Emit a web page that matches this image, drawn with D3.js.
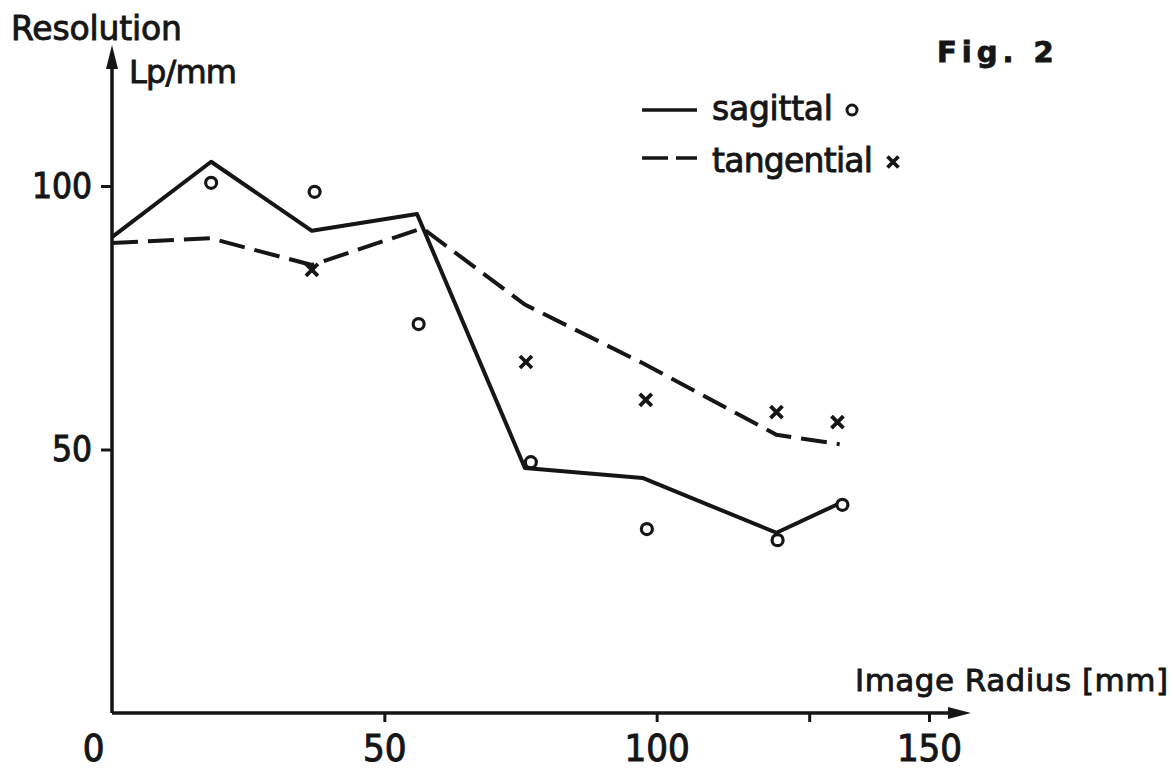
<html>
<head>
    <script src="https://cdnjs.cloudflare.com/ajax/libs/d3/7.8.5/d3.min.js"></script>
    <style>
        body { margin: 0; background: #fff; }
        svg { display: block; }
        .word { font-family: "DejaVu Sans", sans-serif; fill: #161616; stroke: #161616; stroke-width: 0.9; }
        .digit { font-family: "Liberation Sans Narrow", "DejaVu Sans Condensed", sans-serif; fill: #161616; stroke: #161616; stroke-width: 1; }
    </style>
</head>
<body>
<script>
    // radius (mm) and resolution (Lp/mm)
    var sagittalLine = [[0, 90.3], [18.2, 104.6], [36.7, 91.5], [56, 94.7], [75.8, 46.5], [97.4, 44.6], [122, 34.2], [133.6, 39.8]];
    var tangentialLine = [[0, 89.2], [18, 90.1], [36.7, 85], [57, 92], [75.8, 77.5], [97.4, 66.4], [122, 52.8], [133.6, 51]];
    var sagittalPoints = [[18.2, 100.6], [37.2, 98.9], [56.3, 73.8], [76.9, 47.6], [98.2, 34.9], [122.2, 32.8], [134.1, 39.5]];
    var tangentialPoints = [[36.7, 84.1], [76, 66.6], [98, 59.4], [122, 57.1], [133.2, 55.2]];
    var xTicks = [0, 50, 100, 150];
    var xMinorTicks = [128];
    var yTicks = [50, 100];
    var legendNames = ["sagittal", "tangential"];

    var width = 1175, height = 769;
    var ink = "#161616";

    var svg = d3.select("body").append("svg")
        .attr("width", width)
        .attr("height", height);

    var x = d3.scaleLinear().domain([0, 150]).range([112, 929]);
    var y = d3.scaleLinear().domain([0, 100]).range([713, 186]);

    // axes lines with arrow heads
    svg.append("line")
        .attr("x1", x(0)).attr("y1", y(0)).attr("x2", x(0)).attr("y2", 60)
        .attr("stroke", ink).attr("stroke-width", 3.5);
    svg.append("path")
        .attr("d", "M" + x(0) + ",45 L" + (x(0) - 6) + ",69 L" + (x(0) + 6) + ",69 Z")
        .attr("fill", ink);
    svg.append("line")
        .attr("x1", x(0)).attr("y1", y(0)).attr("x2", 955).attr("y2", y(0))
        .attr("stroke", ink).attr("stroke-width", 3.5);
    svg.append("path")
        .attr("d", "M971," + y(0) + " L948," + (y(0) - 6) + " L948," + (y(0) + 6) + " Z")
        .attr("fill", ink);

    var xAxis = d3.axisBottom(x)
        .tickValues(xTicks.concat(xMinorTicks))
        .tickSize(9)
        .tickPadding(12)
        .tickFormat(function (d) { return xTicks.indexOf(d) >= 0 ? d : ""; });
    var xg = svg.append("g")
        .attr("transform", "translate(0," + y(0) + ")")
        .call(xAxis);
    xg.select(".domain").remove();
    xg.selectAll(".tick line").attr("stroke", ink).attr("stroke-width", 3)
        .filter(function (d) { return d === 0; }).remove();
    xg.selectAll(".tick text")
        .attr("class", "digit")
        .attr("font-size", 38)
        .attr("fill", ink)
        .attr("dx", function (d) { return d === 0 ? -19 : 0; });

    var yAxis = d3.axisLeft(y)
        .tickValues(yTicks)
        .tickSize(11)
        .tickPadding(9)
        .tickFormat(d3.format("d"));
    var yg = svg.append("g")
        .attr("transform", "translate(" + x(0) + ",0)")
        .call(yAxis);
    yg.select(".domain").remove();
    yg.selectAll(".tick line").attr("stroke", ink).attr("stroke-width", 3);
    yg.selectAll(".tick text")
        .attr("class", "digit")
        .attr("font-size", 35)
        .attr("fill", ink);

    // axis titles
    svg.append("text").attr("class", "word")
        .attr("x", 11).attr("y", 40).attr("font-size", 33)
        .attr("textLength", 171)
        .text("Resolution");
    svg.append("text").attr("class", "word")
        .attr("x", 129).attr("y", 83).attr("font-size", 32)
        .attr("textLength", 108)
        .text("Lp/mm");
    svg.append("text").attr("class", "word")
        .attr("x", 855).attr("y", 691).attr("font-size", 31)
        .attr("textLength", 313)
        .text("Image Radius [mm]");
    svg.append("text").attr("class", "word")
        .attr("x", 937).attr("y", 62).attr("font-size", 29)
        .attr("font-weight", "bold")
        .attr("letter-spacing", 5)
        .text("Fig. 2");

    // curves
    var line = d3.line()
        .x(function (d) { return x(d[0]); })
        .y(function (d) { return y(d[1]); });

    svg.append("path")
        .datum(sagittalLine)
        .attr("d", line)
        .attr("fill", "none")
        .attr("stroke", ink)
        .attr("stroke-width", 4)
        .attr("stroke-linejoin", "round");

    svg.append("path")
        .datum(tangentialLine)
        .attr("d", line)
        .attr("fill", "none")
        .attr("stroke", ink)
        .attr("stroke-width", 4)
        .attr("stroke-dasharray", "26 10");

    // measured points
    svg.selectAll(".sag").data(sagittalPoints).enter().append("circle")
        .attr("class", "sag")
        .attr("cx", function (d) { return x(d[0]); })
        .attr("cy", function (d) { return y(d[1]); })
        .attr("r", 5.5)
        .attr("fill", "#fff")
        .attr("stroke", ink)
        .attr("stroke-width", 3.2);

    function cross(g, cx, cy, s) {
        g.append("path")
            .attr("d", "M" + (cx - s) + "," + (cy - s) + "L" + (cx + s) + "," + (cy + s) +
                "M" + (cx + s) + "," + (cy - s) + "L" + (cx - s) + "," + (cy + s))
            .attr("stroke", ink)
            .attr("stroke-width", 3.8);
    }

    tangentialPoints.forEach(function (d) {
        cross(svg, x(d[0]), y(d[1]), 6);
    });

    // legend
    var legend = svg.append("g");
    legend.append("line")
        .attr("x1", 642).attr("x2", 697).attr("y1", 110).attr("y2", 110)
        .attr("stroke", ink).attr("stroke-width", 3.5);
    legend.append("line")
        .attr("x1", 642).attr("x2", 697).attr("y1", 158).attr("y2", 158)
        .attr("stroke", ink).attr("stroke-width", 3.5)
        .attr("stroke-dasharray", "26 8");
    legend.append("text").attr("class", "word")
        .attr("x", 712).attr("y", 120).attr("font-size", 33)
        .attr("textLength", 121)
        .text(legendNames[0]);
    legend.append("text").attr("class", "word")
        .attr("x", 712).attr("y", 172).attr("font-size", 33)
        .attr("textLength", 161)
        .text(legendNames[1]);
    legend.append("circle")
        .attr("cx", 852).attr("cy", 110).attr("r", 5)
        .attr("fill", "#fff").attr("stroke", ink).attr("stroke-width", 3);
    cross(legend, 893, 162, 5.5);
</script>
</body>
</html>
